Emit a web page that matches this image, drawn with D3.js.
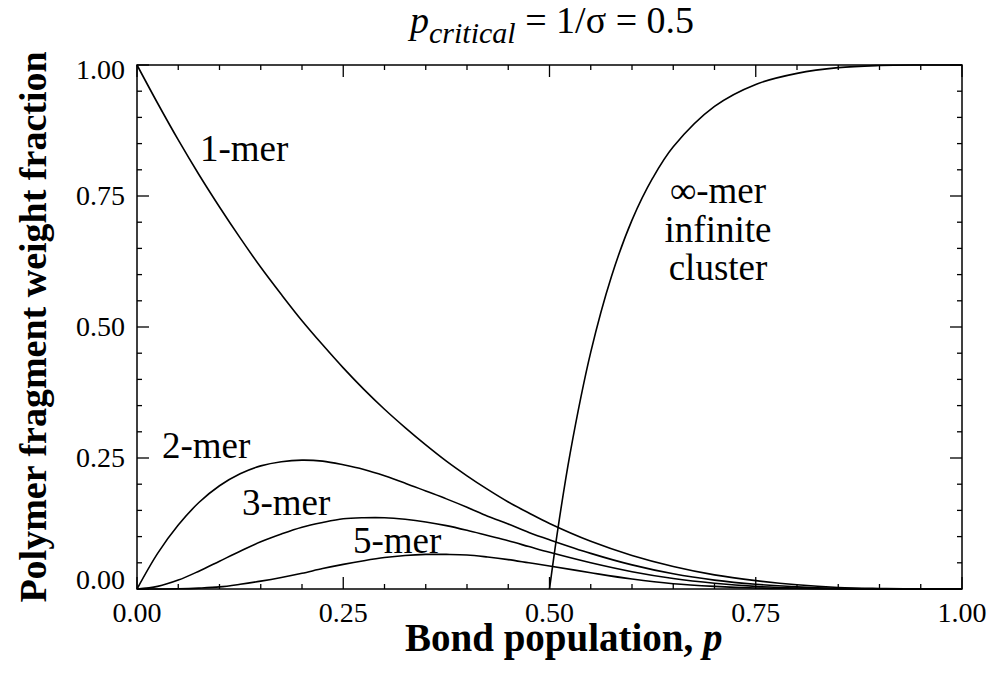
<!DOCTYPE html>
<meta charset="utf-8">
<style>
    body { margin: 0; background: #fff; }
    .curve { fill: none; stroke: #000; stroke-width: 1.6px; }
    .frame { fill: none; stroke: #000; stroke-width: 1.5px; }
    .tick { stroke: #000; stroke-width: 1.3px; }
</style>
<body>
    <svg width="989" height="676"></svg>
</body>
<script src="https://d3js.org/d3.v7.min.js"></script>
<script>

    // bond population values where the curves were read (finer below 0.5)
    var pSteps = [0, 0.025, 0.05, 0.075, 0.10, 0.125, 0.15, 0.175, 0.20, 0.225, 0.25,
                  0.275, 0.30, 0.325, 0.35, 0.375, 0.40, 0.425, 0.45, 0.475, 0.50,
                  0.55, 0.60, 0.65, 0.70, 0.75, 0.80, 0.85, 0.90, 0.95, 1.00];

    var oneMer   = [1.000, 0.927, 0.857, 0.791, 0.729, 0.670, 0.614, 0.562, 0.512, 0.466, 0.422,
                    0.381, 0.343, 0.308, 0.275, 0.244, 0.216, 0.190, 0.166, 0.145, 0.125,
                    0.091, 0.064, 0.043, 0.027, 0.016, 0.008, 0.003, 0.001, 0.000, 0.000];
    var twoMer   = [0.000, 0.068, 0.122, 0.165, 0.197, 0.220, 0.235, 0.243, 0.246, 0.244, 0.237,
                    0.228, 0.216, 0.202, 0.187, 0.172, 0.156, 0.139, 0.124, 0.108, 0.094,
                    0.068, 0.046, 0.029, 0.017, 0.009, 0.004, 0.001, 0.000, 0.000, 0.000];
    var threeMer = [0.000, 0.005, 0.017, 0.034, 0.053, 0.072, 0.090, 0.105, 0.118, 0.127, 0.134,
                    0.136, 0.136, 0.133, 0.128, 0.121, 0.112, 0.102, 0.092, 0.081, 0.070,
                    0.050, 0.033, 0.020, 0.011, 0.005, 0.002, 0.001, 0.000, 0.000, 0.000];
    var fiveMer  = [0.000, 0.000, 0.0004, 0.0017, 0.004, 0.009, 0.015, 0.022, 0.030, 0.039, 0.047,
                    0.054, 0.060, 0.064, 0.066, 0.066, 0.065, 0.061, 0.056, 0.050, 0.044,
                    0.031, 0.019, 0.010, 0.005, 0.002, 0.001, 0.000, 0.000, 0.000, 0.000];

    // infinite cluster only exists above p critical
    var infP   = [0.50, 0.51, 0.525, 0.55, 0.575, 0.60, 0.625, 0.65, 0.70, 0.75, 0.80, 0.85, 0.90, 0.95, 1.00];
    var infMer = [0.000, 0.113, 0.259, 0.452, 0.596, 0.704, 0.784, 0.844, 0.921, 0.963, 0.984, 0.995, 0.999, 1.000, 1.000];

    var majorTicks = [0, 0.25, 0.5, 0.75, 1.0];
    var tickLabels = ["0.00", "0.25", "0.50", "0.75", "1.00"];

    var serif = "'Liberation Serif', 'Times New Roman', Tinos, 'Nimbus Roman', Times, serif";

    var svg = d3.select("svg");
    // note: "top" is taken by window.top, so use plot* names
    var plotL = 137, plotR = 962, plotT = 65, plotB = 589;

    var x = d3.scaleLinear().domain([0, 1]).range([plotL, plotR]);
    var y = d3.scaleLinear().domain([0, 1]).range([plotB, plotT]);

    var minorTicks = d3.range(0, 1.0001, 0.05).filter(function (v) {
        return Math.abs(v * 4 - Math.round(v * 4)) > 1e-6;
    });

    var g = svg.append("g");

    // ticks on all four sides, pointing in
    function drawTicks(vals, len) {
        vals.forEach(function (v) {
            g.append("line").attr("class", "tick")
                .attr("x1", x(v)).attr("x2", x(v)).attr("y1", plotB).attr("y2", plotB - len);
            g.append("line").attr("class", "tick")
                .attr("x1", x(v)).attr("x2", x(v)).attr("y1", plotT).attr("y2", plotT + len);
            g.append("line").attr("class", "tick")
                .attr("y1", y(v)).attr("y2", y(v)).attr("x1", plotL).attr("x2", plotL + len);
            g.append("line").attr("class", "tick")
                .attr("y1", y(v)).attr("y2", y(v)).attr("x1", plotR).attr("x2", plotR - len);
        });
    }
    drawTicks(majorTicks, 12);
    drawTicks(minorTicks, 5);

    g.append("rect").attr("class", "frame")
        .attr("x", plotL).attr("y", plotT)
        .attr("width", plotR - plotL).attr("height", plotB - plotT);

    function txt(parent, size, weight) {
        return parent.append("text")
            .style("font-family", serif)
            .style("font-size", size + "px")
            .style("font-weight", weight || "normal")
            .style("fill", "#000");
    }

    // tick labels
    majorTicks.forEach(function (d, i) {
        txt(g, 28).attr("x", x(d)).attr("y", 622)
            .attr("text-anchor", "middle").text(tickLabels[i]);
        var yy = y(d) + 9;
        if (d == 1) yy += 5;
        if (d == 0) yy -= 9;
        txt(g, 28).attr("x", 125).attr("y", yy)
            .attr("text-anchor", "end").text(tickLabels[i]);
    });

    var line = d3.line()
        .x(function (d) { return x(d[0]); })
        .y(function (d) { return y(d[1]); })
        .curve(d3.curveCatmullRom.alpha(0.5));

    [oneMer, twoMer, threeMer, fiveMer].forEach(function (s) {
        g.append("path").attr("class", "curve")
            .attr("d", line(pSteps.map(function (p, i) { return [p, s[i]]; })));
    });
    g.append("path").attr("class", "curve")
        .attr("d", line(infP.map(function (p, i) { return [p, infMer[i]]; })));

    // curve labels
    var labels = [
        { t: "1-mer", x: 200, y: 161 },
        { t: "2-mer", x: 162, y: 458 },
        { t: "3-mer", x: 242, y: 515 },
        { t: "5-mer", x: 353, y: 553 }
    ];
    labels.forEach(function (l) {
        txt(g, 37).attr("x", l.x).attr("y", l.y).text(l.t);
    });
    ["\u221e-mer", "infinite", "cluster"].forEach(function (t, i) {
        txt(g, 37).attr("x", 718).attr("y", 203 + i * 38.5)
            .attr("text-anchor", "middle").text(t);
    });

    // title
    var title = txt(svg, 38).attr("x", 410).attr("y", 33);
    title.append("tspan").style("font-style", "italic").text("p");
    title.append("tspan").style("font-style", "italic").style("font-size", "30px")
        .attr("dy", 10).text("critical");
    title.append("tspan").attr("dy", -10).text(" = 1/\u03c3 = 0.5");

    // axis titles
    var xt = txt(svg, 39, "bold").attr("x", 405).attr("y", 651);
    xt.append("tspan").text("Bond population, ");
    xt.append("tspan").style("font-style", "italic").text("p");

    txt(svg, 38, "bold")
        .attr("transform", "translate(46," + ((plotT + plotB) / 2) + ") rotate(-90)")
        .attr("text-anchor", "middle")
        .text("Polymer fragment weight fraction");
</script>
